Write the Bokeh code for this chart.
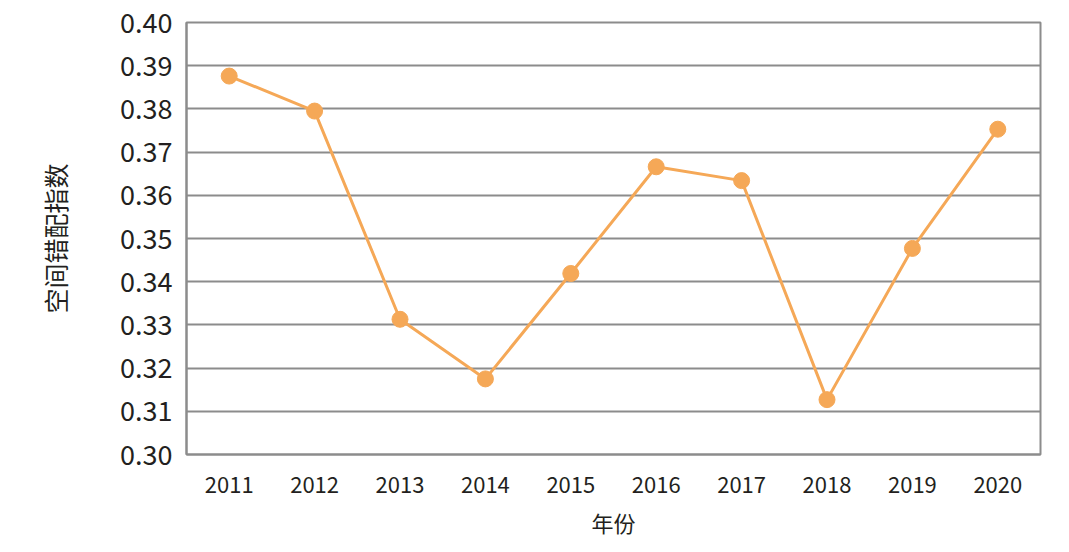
from bokeh.plotting import figure
from bokeh.models import FixedTicker, Range1d, NumeralTickFormatter
from bokeh.embed import file_html
from bokeh.resources import INLINE

years = ["2011", "2012", "2013", "2014", "2015", "2016", "2017", "2018", "2019", "2020"]
values = [0.3876, 0.3795, 0.3313, 0.3175, 0.3419, 0.3666, 0.3634, 0.3127, 0.3477, 0.3753]
y_ticks = [0.30, 0.31, 0.32, 0.33, 0.34, 0.35, 0.36, 0.37, 0.38, 0.39, 0.40]

FONT = "Noto Sans CJK SC"
GRID = "#8c8c8c"
ORANGE = "#F5A857"

p = figure(x_range=years, y_range=Range1d(0.30, 0.40), width=1060, height=540,
           output_backend="svg", toolbar_location=None,
           min_border_left=186, min_border_right=20, min_border_top=22, min_border_bottom=84)

p.line(years, values, line_color=ORANGE, line_width=3)
p.scatter(years, values, size=16, fill_color=ORANGE, line_color=ORANGE)

p.yaxis.ticker = FixedTicker(ticks=y_ticks)
p.yaxis.formatter = NumeralTickFormatter(format="0.00")
p.yaxis.major_label_text_font = FONT
p.yaxis.major_label_text_font_size = "27px"
p.yaxis.major_label_text_color = "#231f20"
p.yaxis.major_label_standoff = 8
p.yaxis.axis_label = "空间错配指数"
p.yaxis.axis_label_text_font = FONT
p.yaxis.axis_label_text_font_size = "25px"
p.yaxis.axis_label_text_font_style = "normal"
p.yaxis.axis_label_text_color = "#231f20"
p.yaxis.axis_label_standoff = 44

p.xaxis.major_label_text_font = FONT
p.xaxis.major_label_text_font_size = "22px"
p.xaxis.major_label_text_color = "#231f20"
p.xaxis.major_label_standoff = 16
p.xaxis.axis_label = "年份"
p.xaxis.axis_label_text_font = FONT
p.xaxis.axis_label_text_font_size = "22px"
p.xaxis.axis_label_text_font_style = "normal"
p.xaxis.axis_label_text_color = "#231f20"
p.xaxis.axis_label_standoff = 10

for ax in (p.xaxis, p.yaxis):
    ax.axis_line_color = GRID
    ax.axis_line_width = 2
    ax.major_tick_line_color = None
    ax.minor_tick_line_color = None

p.xgrid.grid_line_color = None
p.ygrid.grid_line_color = GRID
p.ygrid.grid_line_width = 2
p.outline_line_color = GRID
p.outline_line_width = 2
p.outline_line_alpha = 1

open("out.html", "w").write(file_html(p, INLINE))
